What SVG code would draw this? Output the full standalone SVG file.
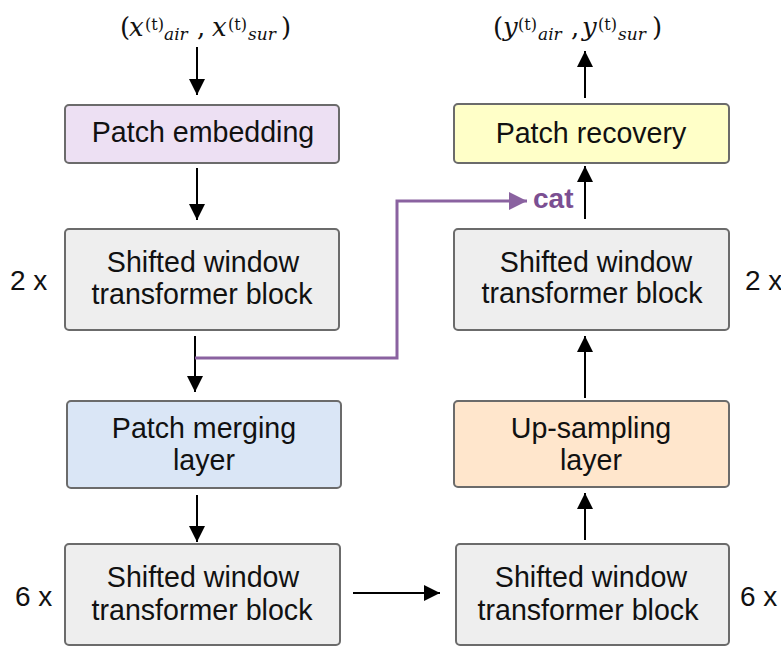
<svg xmlns="http://www.w3.org/2000/svg" width="781" height="646" viewBox="0 0 781 646">
  <style>
    .box { stroke: #6b6b6b; stroke-width: 2; }
    .lbl { font-family: "Liberation Sans", Arial, sans-serif; font-size: 28.6px; fill: #111; text-anchor: middle; }
    .rep { font-family: "Liberation Sans", Arial, sans-serif; font-size: 28px; fill: #111; }
    .math { font-family: "DejaVu Serif", "Liberation Serif", serif; font-size: 26px; fill: #111; }
    .it { font-style: italic; }
    .sup { font-size: 16px; }
    .sub { font-size: 17px; }
    .wire { stroke: #000; stroke-width: 2; fill: none; }
    .skip { stroke: #8a62a0; stroke-width: 3; fill: none; }
    .cat { font-family: "Liberation Sans", Arial, sans-serif; font-size: 28px; font-weight: bold; fill: #7b4f92; }
  </style>
  <defs>
    <marker id="ah" viewBox="0 0 16 16" refX="16" refY="8" markerWidth="16" markerHeight="16" orient="auto" markerUnits="userSpaceOnUse">
      <path d="M0,0 L16,8 L0,16 z" fill="#000"/>
    </marker>
    <marker id="ahp" viewBox="0 0 18 18" refX="18" refY="9" markerWidth="18" markerHeight="18" orient="auto" markerUnits="userSpaceOnUse">
      <path d="M0,0 L18,9 L0,18 z" fill="#8a62a0"/>
    </marker>
  </defs>

  <rect width="781" height="646" fill="#fff"/>

  <!-- input / output tuples -->
  <g id="input-label">
    <text class="math" y="36"><tspan x="120">(</tspan><tspan x="129" class="it">x</tspan><tspan x="145" y="30" class="sup">(t)</tspan><tspan x="164" y="40" class="sub it">air</tspan><tspan x="197" y="36">,</tspan><tspan x="212" class="it">x</tspan><tspan x="228" y="30" class="sup">(t)</tspan><tspan x="248" y="40" class="sub it">sur</tspan><tspan x="281" y="36">)</tspan></text>
  </g>
  <g id="output-label">
    <text class="math" y="36"><tspan x="493">(</tspan><tspan x="503" class="it">y</tspan><tspan x="518" y="30" class="sup">(t)</tspan><tspan x="538" y="40" class="sub it">air</tspan><tspan x="571" y="36">,</tspan><tspan x="582" class="it">y</tspan><tspan x="598" y="30" class="sup">(t)</tspan><tspan x="618" y="40" class="sub it">sur</tspan><tspan x="652" y="36">)</tspan></text>
  </g>

  <!-- encoder column -->
  <g id="patch-embedding">
    <rect class="box" x="65" y="105" width="274" height="58" rx="4" fill="#ede0f3"/>
    <text class="lbl" x="203" y="142">Patch embedding</text>
  </g>
  <g id="swin-enc-1">
    <rect class="box" x="65" y="229" width="274" height="101" rx="4" fill="#eeeeee"/>
    <text class="lbl" x="203" y="272">Shifted window</text>
    <text class="lbl" x="202" y="304">transformer block</text>
  </g>
  <text class="rep" x="10" y="290">2 x</text>
  <g id="patch-merging">
    <rect class="box" x="67" y="401" width="274" height="87" rx="4" fill="#dae6f6"/>
    <text class="lbl" x="204" y="438">Patch merging</text>
    <text class="lbl" x="204" y="470">layer</text>
  </g>
  <g id="swin-enc-2">
    <rect class="box" x="65" y="544" width="275" height="101" rx="4" fill="#eeeeee"/>
    <text class="lbl" x="203" y="587">Shifted window</text>
    <text class="lbl" x="202" y="620">transformer block</text>
  </g>
  <text class="rep" x="15" y="606">6 x</text>

  <!-- decoder column -->
  <g id="patch-recovery">
    <rect class="box" x="454" y="104" width="275" height="59" rx="4" fill="#ffffc8"/>
    <text class="lbl" x="591" y="143">Patch recovery</text>
  </g>
  <g id="swin-dec-1">
    <rect class="box" x="454" y="229" width="275" height="101" rx="4" fill="#eeeeee"/>
    <text class="lbl" x="596" y="272">Shifted window</text>
    <text class="lbl" x="592" y="303">transformer block</text>
  </g>
  <text class="rep" x="745" y="290">2 x</text>
  <g id="up-sampling">
    <rect class="box" x="454" y="401" width="275" height="86" rx="4" fill="#ffe6cc"/>
    <text class="lbl" x="591" y="438">Up-sampling</text>
    <text class="lbl" x="591" y="470">layer</text>
  </g>
  <g id="swin-dec-2">
    <rect class="box" x="456" y="544" width="273" height="101" rx="4" fill="#eeeeee"/>
    <text class="lbl" x="591" y="587">Shifted window</text>
    <text class="lbl" x="588" y="620">transformer block</text>
  </g>
  <text class="rep" x="740" y="606">6 x</text>

  <!-- connectors -->
  <g id="connectors">
    <line class="wire" x1="197" y1="47" x2="197" y2="95" marker-end="url(#ah)"/>
    <line class="wire" x1="197" y1="168" x2="197" y2="220" marker-end="url(#ah)"/>
    <line class="wire" x1="195" y1="336" x2="195" y2="392" marker-end="url(#ah)"/>
    <line class="wire" x1="197" y1="495" x2="197" y2="542" marker-end="url(#ah)"/>
    <line class="wire" x1="353" y1="593" x2="440" y2="593" marker-end="url(#ah)"/>
    <line class="wire" x1="585" y1="540" x2="585" y2="493" marker-end="url(#ah)"/>
    <line class="wire" x1="585" y1="398" x2="585" y2="336" marker-end="url(#ah)"/>
    <line class="wire" x1="585" y1="219" x2="585" y2="166" marker-end="url(#ah)"/>
    <line class="wire" x1="585" y1="98" x2="585" y2="51" marker-end="url(#ah)"/>
    <path class="skip" d="M195,358 H397 V201 H527" marker-end="url(#ahp)"/>
    <text class="cat" x="533" y="208">cat</text>
  </g>
</svg>
